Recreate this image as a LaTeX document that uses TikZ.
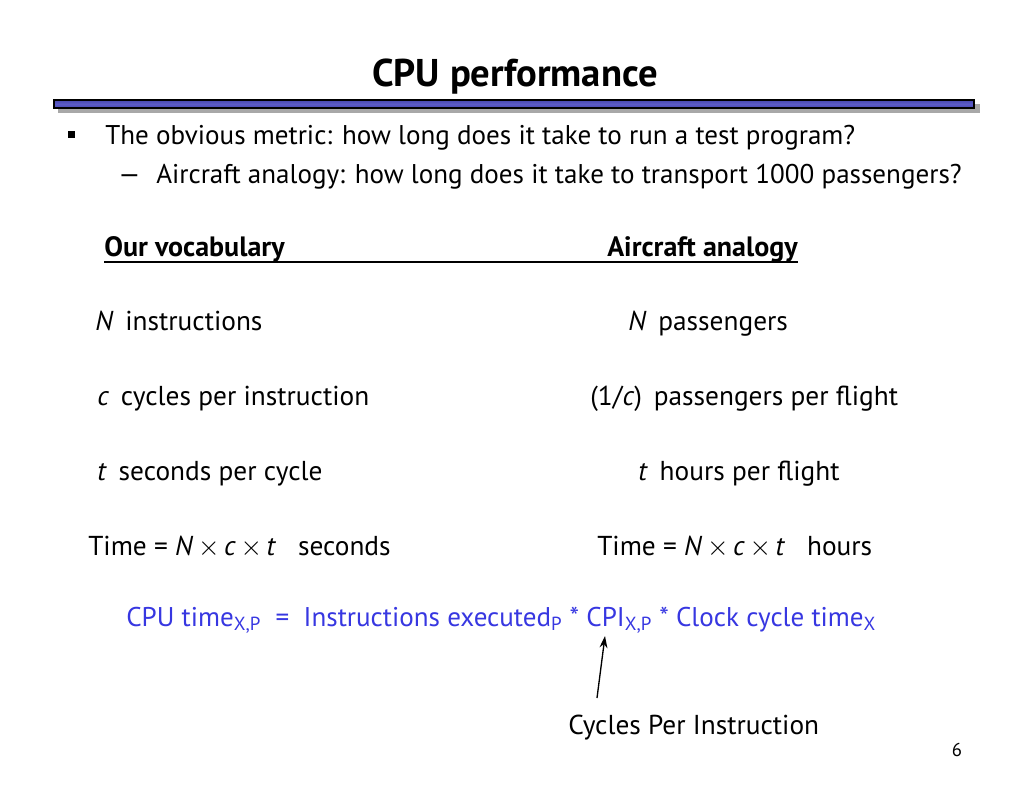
\documentclass[tikz,border=0pt]{standalone}
\usepackage{fontspec}
\setmainfont{PT Sans}
\usetikzlibrary{arrows.meta}
\definecolor{barblue}{RGB}{72,72,176}
\definecolor{barlight}{RGB}{92,92,200}
\definecolor{shadowgray}{RGB}{168,168,168}
\definecolor{formblue}{RGB}{55,55,225}
\tikzset{
  txt/.style={anchor=base west, inner sep=0pt, font=\fontsize{20.3pt}{24pt}\selectfont},
  ttl/.style={anchor=base, inner sep=0pt, font=\fontsize{29pt}{34pt}\selectfont\bfseries},
  hdr/.style={anchor=base west, inner sep=0pt, font=\fontsize{21pt}{25pt}\selectfont\bfseries},
  row/.style={anchor=base west, inner sep=0pt, font=\fontsize{20.5pt}{24pt}\selectfont},
  blu/.style={anchor=base west, inner sep=0pt, text=formblue, font=\fontsize{20.3pt}{24pt}\selectfont},
  arr/.style={-{Stealth[length=9pt,width=6pt]}, line width=1pt}
}
\newcommand{\mytimes}{\,$\times$\,}
\begin{document}
\begin{tikzpicture}[x=0.75pt,y=-0.75pt]
\useasboundingbox (0,0) rectangle (1024,791);
% title
\node[ttl] (title) at (515,87) {CPU performance};
% bar
\fill[shadowgray] (58,104) rectangle (980,113);
\shade[top color=barblue, bottom color=barblue, middle color=barlight] (54,100) rectangle (974,108);
\draw[black, line width=0.8pt] (54,100) rectangle (974,108);
% bullets
\fill (68,131) rectangle (75,138);
\node[txt] (b1) at (105,145) {The obvious metric: how long does it take to run a test program?};
\node[txt] (d2) at (118,184) {\textemdash};
\node[txt] (b2) at (156,184) {Aircraft analogy: how long does it take to transport 1000 passengers?};
% headers
\node[hdr] (h1) at (104,257) {Our vocabulary};
\node[hdr, anchor=base east] (h2) at (798,257) {Aircraft analogy};
\draw[line width=1.2pt] (104,262) -- (798,262);
% rows
\node[row] (l1) at (95,331) {\textit{N}\, instructions};
\node[row] (r1) at (628,331) {\textit{N}\, passengers};
\node[row] (l2) at (97,406) {\textit{c}\, cycles per instruction};
\node[row] (r2) at (590,406) {(1/\textit{c})\, passengers per flight};
\node[row] (l3) at (97,480) {\textit{t}\, seconds per cycle};
\node[row] (r3) at (638,480) {\textit{t}\, hours per flight};
\node[row] (l4) at (88,555) {Time = \textit{N}\mytimes\textit{c}\mytimes\textit{t} \ \ seconds};
\node[row] (r4) at (597,555) {Time = \textit{N}\mytimes\textit{c}\mytimes\textit{t} \ \ hours};
% formula
\node[blu] (f) at (126,626) {CPU time\textsubscript{X,P} \ = \ Instructions executed\textsubscript{P} * CPI\textsubscript{X,P} * Clock cycle time\textsubscript{X}};
\node[row] (cpi) at (568,734) {Cycles Per Instruction};
\coordinate (tail) at (597,698);
\coordinate (tip) at (605,636);
\draw[arr] (tail) -- (tip);
\node[anchor=base, inner sep=0pt, font=\fontsize{14pt}{16pt}\selectfont] (pg) at (957,756) {6};
\end{tikzpicture}
\end{document}
